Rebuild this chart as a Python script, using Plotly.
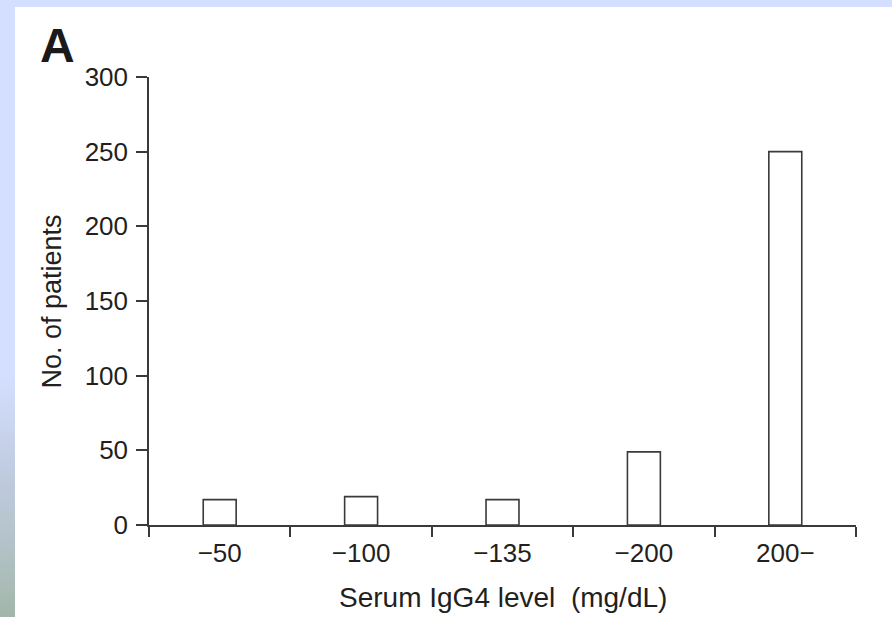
import plotly.graph_objects as go

# ---- data ----
categories = ["\u221250", "\u2212100", "\u2212135", "\u2212200", "200\u2212"]
patients = [17, 19, 17, 49, 250]
y_tick_values = [0, 50, 100, 150, 200, 250, 300]

W_FIG, H_FIG = 892, 617
L, R, T, B = 149, 36, 77, 92
PW, PH = W_FIG - L - R, H_FIG - T - B
BOTTOM = H_FIG - B

def X(px):
    return (px - L) / PW

def Y(py):
    return (BOTTOM - py) / PH

TEXT = "#231f20"
LINE = "#3a3a3a"
FONT = "Liberation Sans, Arial, Helvetica, sans-serif"

fig = go.Figure(
    go.Bar(
        x=categories,
        y=patients,
        width=0.233,
        marker=dict(color="white", line=dict(color=LINE, width=1.6)),
        hoverinfo="x+y",
    )
)

shapes = []
BLUE = (212, 222, 254)
# top strip
shapes.append(dict(type="rect", xref="paper", yref="paper", x0=X(0), x1=X(W_FIG), y0=Y(7), y1=Y(0),
                   fillcolor="rgb(%d,%d,%d)" % BLUE, line=dict(width=0), layer="below"))
# left strip solid part
shapes.append(dict(type="rect", xref="paper", yref="paper", x0=X(0), x1=X(15), y0=Y(377), y1=Y(0),
                   fillcolor="rgb(%d,%d,%d)" % BLUE, line=dict(width=0), layer="below"))
# left strip gradient part (banded)
stops = [(377, BLUE), (470, (192, 204, 224)), (540, (180, 195, 202)), (617, (162, 182, 170))]
n = 48
y_start, y_end = 377, 617
for i in range(n):
    ya = y_start + (y_end - y_start) * i / n
    yb = y_start + (y_end - y_start) * (i + 1) / n
    ym = (ya + yb) / 2
    for j in range(len(stops) - 1):
        if stops[j][0] <= ym <= stops[j + 1][0]:
            t = (ym - stops[j][0]) / (stops[j + 1][0] - stops[j][0])
            c = tuple(int(round(stops[j][1][k] + t * (stops[j + 1][1][k] - stops[j][1][k]))) for k in range(3))
            break
    shapes.append(dict(type="rect", xref="paper", yref="paper", x0=X(0), x1=X(15), y0=Y(yb + 0.5), y1=Y(ya),
                       fillcolor="rgb(%d,%d,%d)" % c, line=dict(width=0), layer="below"))

fig.update_layout(
    width=W_FIG,
    height=H_FIG,
    margin=dict(l=L, r=R, t=T, b=B, pad=0),
    paper_bgcolor="white",
    plot_bgcolor="white",
    showlegend=False,
    font=dict(family=FONT, color=TEXT),
    shapes=shapes,
    xaxis=dict(
        type="category",
        range=[-0.5, 4.5],
        tickson="boundaries",
        ticks="outside",
        ticklen=10,
        tickwidth=1.5,
        tickcolor=LINE,
        showline=True,
        linecolor=LINE,
        linewidth=1.5,
        showgrid=False,
        zeroline=False,
        ticklabelstandoff=4,
        tickfont=dict(size=26, color=TEXT, family=FONT),
    ),
    yaxis=dict(
        range=[0, 300],
        tickvals=y_tick_values,
        ticks="outside",
        ticklen=11,
        tickwidth=1.5,
        tickcolor=LINE,
        showline=True,
        linecolor=LINE,
        linewidth=1.5,
        showgrid=False,
        zeroline=False,
        ticklabelstandoff=3,
        tickfont=dict(size=26, color=TEXT, family=FONT),
    ),
    annotations=[
        dict(text="<b>A</b>", xref="paper", yref="paper", x=X(38), y=Y(45.5), xanchor="left", yanchor="middle",
             showarrow=False, font=dict(size=48, color="#1a1a1a", family=FONT)),
        dict(text="No. of patients", xref="paper", yref="paper", x=X(51), y=Y(301.5), xanchor="center",
             yanchor="middle", textangle=-90, showarrow=False, font=dict(size=27, color=TEXT, family=FONT)),
        dict(text="Serum IgG4 level \u00a0(mg/dL)", xref="paper", yref="paper", x=X(502.5), y=Y(597),
             xanchor="center", yanchor="middle", showarrow=False, font=dict(size=28, color=TEXT, family=FONT)),
    ],
)

fig.write_html("out.html", config={"displayModeBar": False},
               post_script="document.body.style.margin='0px';")
